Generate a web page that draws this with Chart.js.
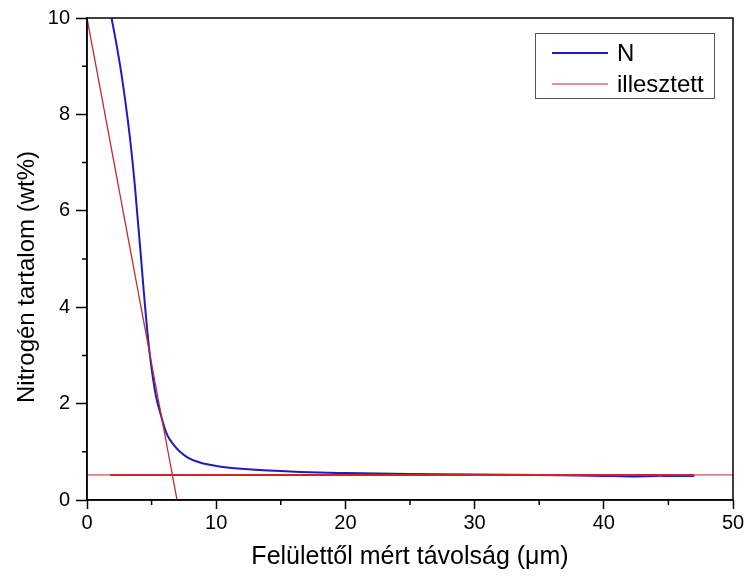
<!DOCTYPE html>
<html>
<head>
<meta charset="utf-8">
<script src="https://cdn.jsdelivr.net/npm/chart.js@4.4.0/dist/chart.umd.min.js"></script>
<style>
html,body{margin:0;padding:0;background:#fff;}
#wrap{width:747px;height:581px;}
</style>
</head>
<body>
<div id="wrap"><canvas id="c" width="747" height="581"></canvas></div>
<script>
// Data
const nX = [1.9,2.25,2.57,2.85,3.1,3.33,3.53,3.71,3.87,4.03,4.19,4.34,4.5,4.67,4.87,5.12,5.38,5.68,6.0,6.3,6.7,7.2,7.8,8.5,9.5,11,13,15,18,20,25,30,35,38,40,42,44,45,46,47];
const nY = [10.0,9.5,9.0,8.5,8.0,7.5,7.0,6.5,6.0,5.5,5.0,4.5,4.0,3.5,3.0,2.5,2.1,1.8,1.5,1.3,1.15,1.0,0.88,0.8,0.73,0.67,0.63,0.6,0.57,0.56,0.54,0.53,0.52,0.51,0.5,0.49,0.5,0.5,0.5,0.5];
const fitSlopeX = [0, 6.97];
const fitSlopeY = [10, 0];
const fitFlatX = [0, 50];
const fitFlatY = [0.52, 0.52];
const fitFlatRangeX = [1.8, 47];
const fitFlatRangeY = [0.52, 0.52];
const xTicks = [0,10,20,30,40,50];
const yTicks = [0,2,4,6,8,10];
const seriesLabels = ['N','illesztett'];
const xTitle = 'Felülettől mért távolság (μm)';
const yTitle = 'Nitrogén tartalom (wt%)';

const zip = (xs, ys) => xs.map((x,i)=>({x:x, y:ys[i]}));
const BLUE = '#1c1cc0';
const RED = '#c42a2a';
const SANS = '"Liberation Sans", Arial, sans-serif';

const frameAndMinor = {
  id:'frameAndMinor',
  afterDraw(chart){
    const {ctx, chartArea:a, scales} = chart;
    ctx.save();
    ctx.strokeStyle = '#000';
    ctx.lineWidth = 1.5;
    ctx.strokeRect(a.left, a.top, a.right - a.left, a.bottom - a.top);
    // minor ticks
    ctx.beginPath();
    for (let v = 5; v < 50; v += 10){
      const px = scales.x.getPixelForValue(v);
      ctx.moveTo(px, a.bottom); ctx.lineTo(px, a.bottom + 5);
    }
    for (let v = 1; v < 10; v += 2){
      const py = scales.y.getPixelForValue(v);
      ctx.moveTo(a.left, py); ctx.lineTo(a.left - 5, py);
    }
    ctx.stroke();
    // y title
    ctx.fillStyle = '#000';
    ctx.font = '24px ' + SANS;
    ctx.textAlign = 'center';
    ctx.textBaseline = 'middle';
    ctx.translate(27, 277);
    ctx.rotate(-Math.PI/2);
    ctx.fillText(yTitle, 0, 0);
    ctx.setTransform(1,0,0,1,0,0);
    // legend
    const bx = 535, by = 33, bw = 179, bh = 65;
    ctx.lineWidth = 1;
    ctx.strokeStyle = '#555';
    ctx.strokeRect(bx + 0.5, by + 0.5, bw, bh);
    const items = [{label:seriesLabels[0], color:BLUE, w:2},{label:seriesLabels[1], color:RED, w:1.2}];
    ctx.font = '24px ' + SANS;
    ctx.textAlign = 'left';
    ctx.textBaseline = 'middle';
    items.forEach((it, i) => {
      const y = by + 20 + i * 31;
      ctx.strokeStyle = it.color;
      ctx.lineWidth = it.w;
      ctx.beginPath(); ctx.moveTo(bx + 17, y); ctx.lineTo(bx + 73, y); ctx.stroke();
      ctx.fillText(it.label, bx + 82, y + 1);
    });
    ctx.restore();
  }
};

new Chart(document.getElementById('c'), {
  type: 'scatter',
  data: {
    datasets: [
      {label: seriesLabels[1], data: zip(fitFlatX, fitFlatY), showLine:true, borderColor:RED, borderWidth:1, pointRadius:0},
      {label: seriesLabels[1], data: zip(fitFlatRangeX, fitFlatRangeY), showLine:true, borderColor:RED, borderWidth:2, pointRadius:0},
      {label: seriesLabels[1], data: zip(fitSlopeX, fitSlopeY), showLine:true, borderColor:RED, borderWidth:1.3, pointRadius:0},
      {label: seriesLabels[0], data: zip(nX, nY), showLine:true, borderColor:BLUE, borderWidth:2, pointRadius:0, tension:0.4}
    ]
  },
  options: {
    responsive:false,
    animation:false,
    layout:{padding:{left:0, right:14, top:18, bottom:0}},
    plugins:{legend:{display:false}, tooltip:{enabled:false}},
    scales:{
      x:{
        type:'linear', min:0, max:50,
        afterBuildTicks: s => { s.ticks = xTicks.map(v=>({value:v})); },
        afterFit: s => { s.height = 81; },
        ticks:{color:'#000', font:{family:SANS, size:20}, padding:2, maxRotation:0},
        grid:{drawOnChartArea:false, tickLength:9, tickColor:'#000', tickWidth:1.5},
        border:{color:'#000', width:1.5},
        title:{display:true, text:xTitle, color:'#000', font:{family:SANS, size:25}, padding:{top:4, bottom:9}}
      },
      y:{
        type:'linear', min:0, max:10,
        afterBuildTicks: s => { s.ticks = yTicks.map(v=>({value:v})); },
        afterFit: s => { s.width = 87; },
        ticks:{color:'#000', font:{family:SANS, size:20}, padding:6},
        grid:{drawOnChartArea:false, tickLength:11, tickColor:'#000', tickWidth:1.5},
        border:{color:'#000', width:1.5},
        title:{display:false}
      }
    }
  },
  plugins:[frameAndMinor]
});
</script>
</body>
</html>
